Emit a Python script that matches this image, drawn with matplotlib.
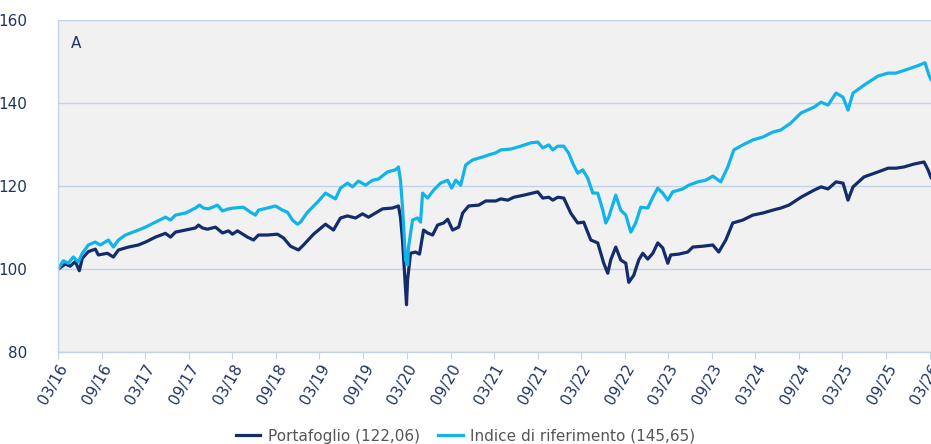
import matplotlib
matplotlib.use("Agg")
import matplotlib.pyplot as plt
import matplotlib.dates as mdates
import pandas as pd

# dates as decimal years
port_t = [2016.167, 2016.247, 2016.304, 2016.362, 2016.408, 2016.442, 2016.511, 2016.591, 2016.626,
          2016.729, 2016.798, 2016.856, 2016.970, 2017.085, 2017.166, 2017.280, 2017.395, 2017.453,
          2017.510, 2017.625, 2017.740, 2017.774, 2017.820, 2017.877, 2017.969, 2018.050, 2018.119,
          2018.164, 2018.222, 2018.337, 2018.406, 2018.463, 2018.566, 2018.681, 2018.750, 2018.831,
          2018.922, 2018.980, 2019.095, 2019.232, 2019.324, 2019.404, 2019.485, 2019.577, 2019.657,
          2019.726, 2019.806, 2019.887, 2020.001, 2020.070, 2020.093, 2020.116, 2020.139, 2020.162,
          2020.174, 2020.208, 2020.265, 2020.311, 2020.357, 2020.403, 2020.461, 2020.518, 2020.587,
          2020.633, 2020.690, 2020.759, 2020.805, 2020.874, 2020.989, 2021.069, 2021.184, 2021.242,
          2021.322, 2021.391, 2021.506, 2021.609, 2021.666, 2021.724, 2021.793, 2021.839, 2021.896,
          2021.965, 2022.045, 2022.125, 2022.194, 2022.275, 2022.355, 2022.424, 2022.470, 2022.504,
          2022.562, 2022.619, 2022.677, 2022.711, 2022.768, 2022.826, 2022.872, 2022.929, 2022.987,
          2023.044, 2023.101, 2023.159, 2023.193, 2023.285, 2023.388, 2023.446, 2023.561, 2023.676,
          2023.744, 2023.825, 2023.905, 2024.020, 2024.135, 2024.250, 2024.364, 2024.456, 2024.548,
          2024.686, 2024.835, 2024.916, 2024.996, 2025.088, 2025.168, 2025.225, 2025.283, 2025.409,
          2025.570, 2025.685, 2025.776, 2025.868, 2025.983, 2026.098, 2026.144, 2026.178]
port_v = [100.0, 101.2, 100.7, 101.8, 99.6, 102.6, 104.2, 104.8, 103.4,
          103.8, 102.9, 104.6, 105.3, 105.8, 106.5, 107.7, 108.6, 107.7,
          108.9, 109.4, 109.9, 110.6, 109.9, 109.6, 110.1, 108.7, 109.2,
          108.4, 109.2, 107.7, 107.0, 108.2, 108.2, 108.4, 107.5, 105.5,
          104.6, 105.8, 108.4, 110.8, 109.4, 112.3, 112.8, 112.3, 113.3,
          112.5, 113.5, 114.5, 114.7, 115.2, 112.5, 107.0, 99.0, 91.4,
          97.3, 103.8, 104.1, 103.6, 109.4, 108.7, 108.2, 110.6, 111.1,
          112.0, 109.4, 110.1, 113.5, 115.2, 115.4, 116.4, 116.4, 116.9,
          116.6, 117.3, 117.8, 118.3, 118.6, 117.1, 117.3, 116.6, 117.3,
          117.1, 113.5, 111.1, 111.3, 107.0, 106.3, 101.4, 99.0, 102.2,
          105.3, 102.2, 101.4, 96.8, 98.5, 102.2, 103.8, 102.4, 103.8,
          106.3, 105.1, 101.4, 103.4, 103.6, 104.1, 105.3, 105.5, 105.8,
          104.1, 107.0, 111.1, 111.8, 113.0, 113.5, 114.2, 114.7, 115.4,
          117.3, 119.0, 119.8, 119.3, 121.0, 120.7, 116.6, 119.8, 122.2,
          123.4, 124.3, 124.3, 124.6, 125.3, 125.8, 123.9, 122.06]

idx_t = [2016.167, 2016.224, 2016.282, 2016.339, 2016.396, 2016.442, 2016.511, 2016.591, 2016.649,
         2016.741, 2016.798, 2016.856, 2016.936, 2017.085, 2017.166, 2017.280, 2017.395, 2017.453,
         2017.510, 2017.625, 2017.740, 2017.786, 2017.832, 2017.889, 2017.992, 2018.050, 2018.119,
         2018.176, 2018.291, 2018.371, 2018.429, 2018.463, 2018.566, 2018.658, 2018.738, 2018.796,
         2018.853, 2018.911, 2018.945, 2019.026, 2019.140, 2019.232, 2019.347, 2019.404, 2019.485,
         2019.542, 2019.611, 2019.692, 2019.772, 2019.841, 2019.944, 2020.036, 2020.070, 2020.093,
         2020.116, 2020.151, 2020.174, 2020.185, 2020.231, 2020.288, 2020.323, 2020.346, 2020.403,
         2020.472, 2020.552, 2020.633, 2020.679, 2020.725, 2020.782, 2020.840, 2020.920, 2021.035,
         2021.104, 2021.184, 2021.242, 2021.356, 2021.471, 2021.586, 2021.666, 2021.724, 2021.793,
         2021.839, 2021.896, 2021.965, 2022.022, 2022.068, 2022.125, 2022.183, 2022.240, 2022.298,
         2022.355, 2022.413, 2022.447, 2022.481, 2022.562, 2022.619, 2022.677, 2022.734, 2022.791,
         2022.849, 2022.929, 2022.987, 2023.044, 2023.101, 2023.159, 2023.216, 2023.331, 2023.400,
         2023.503, 2023.595, 2023.676, 2023.767, 2023.848, 2023.917, 2024.020, 2024.135, 2024.250,
         2024.364, 2024.456, 2024.571, 2024.686, 2024.835, 2024.916, 2024.996, 2025.088, 2025.168,
         2025.225, 2025.283, 2025.409, 2025.570, 2025.685, 2025.776, 2025.891, 2026.029, 2026.109,
         2026.155, 2026.178]
idx_v = [100.0, 102.0, 101.4, 102.9, 101.7, 103.8, 105.8, 106.5, 105.8,
         107.0, 105.3, 107.0, 108.2, 109.4, 110.1, 111.3, 112.5, 111.8,
         113.0, 113.5, 114.7, 115.4, 114.7, 114.5, 115.4, 114.0, 114.5,
         114.7, 114.9, 113.7, 113.0, 114.2, 114.7, 115.2, 114.2, 113.7,
         111.8, 110.8, 111.3, 113.7, 116.1, 118.3, 116.9, 119.5, 120.7,
         119.8, 121.2, 120.2, 121.4, 121.7, 123.4, 123.9, 124.6, 121.4,
         114.9, 102.2, 101.0, 105.3, 111.8, 112.3, 111.3, 118.3, 117.1,
         119.0, 120.7, 121.4, 119.5, 121.4, 120.2, 125.1, 126.3, 127.0,
         127.5, 128.0, 128.7, 128.9, 129.6, 130.4, 130.6, 129.2, 129.9,
         128.7, 129.6, 129.6, 127.9, 125.5, 123.1, 123.9, 121.9, 118.3,
         118.3, 114.2, 111.1, 112.5, 117.8, 114.2, 113.0, 108.9, 111.1,
         114.9, 114.7, 117.3, 119.5, 118.3, 116.6, 118.6, 119.3, 120.2,
         121.0, 121.4, 122.4, 121.0, 124.6, 128.7, 129.9, 131.1, 131.8,
         133.0, 133.5, 135.2, 137.6, 139.0, 140.2, 139.5, 142.4, 141.4,
         138.3, 142.4, 144.3, 146.5, 147.2, 147.2, 148.0, 149.0, 149.7,
         146.7, 145.65]

labels = ["Portafoglio (122,06)", "Indice di riferimento (145,65)"]
colors = ["#132c6c", "#11b4ea"]


def to_dates(years):
    out = []
    for y in years:
        yr = int(y)
        start = pd.Timestamp(yr, 1, 1)
        days = (pd.Timestamp(yr + 1, 1, 1) - start).days
        out.append(start + pd.Timedelta(days=(y - yr) * days))
    return out


port_d = to_dates(port_t)
idx_d = to_dates(idx_t)

text_col = "#1f3464"
grid_col = "#c3d2e6"

fig = plt.figure(figsize=(9.31, 4.44), dpi=100)
ax = fig.add_axes([0.0623, 0.207, 0.9377, 0.748])
ax.set_facecolor("#f1f1f1")

ax.plot(port_d, port_v, color=colors[0], lw=2.3, label=labels[0], solid_joinstyle="round")
ax.plot(idx_d, idx_v, color=colors[1], lw=2.3, label=labels[1], solid_joinstyle="round")

ax.set_ylim(80, 160)
ax.set_yticks([80, 100, 120, 140, 160])
ax.set_xlim(pd.Timestamp("2016-03-01"), idx_d[-1])
ticks = pd.date_range("2016-03-01", "2026-03-01", freq="6MS")
ax.set_xticks(ticks)
ax.xaxis.set_major_formatter(mdates.DateFormatter("%m/%y"))

ax.grid(axis="y", color=grid_col, lw=1)
ax.set_axisbelow(True)
for s in ["top", "right"]:
    ax.spines[s].set_visible(False)
for s in ["left", "bottom"]:
    ax.spines[s].set_color(grid_col)
    ax.spines[s].set_linewidth(1)

ax.tick_params(axis="y", length=0, pad=22, labelsize=11, labelcolor=text_col)
ax.tick_params(axis="x", length=5, color=grid_col, labelsize=11, labelcolor=text_col, pad=2)
for lab in ax.get_xticklabels():
    lab.set_rotation(60)
    lab.set_ha("right")
    lab.set_rotation_mode("anchor")

ax.text(0.015, 0.93, "A", transform=ax.transAxes, fontsize=11, color=text_col, va="center")

fig.legend(loc="lower center", bbox_to_anchor=(0.5, -0.03), ncol=2, frameon=False,
           fontsize=11, labelcolor="#555555", handlelength=1.6, columnspacing=1.2, handletextpad=0.5)

fig.savefig("out.png", dpi=100)
